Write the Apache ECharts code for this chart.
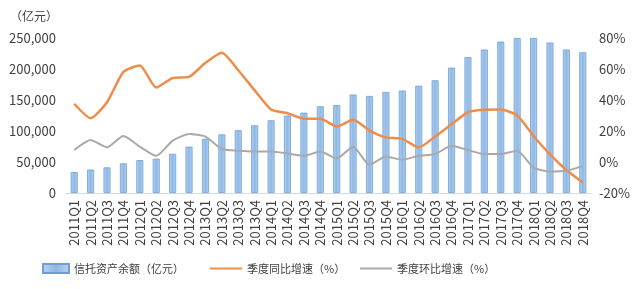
<!DOCTYPE html>
<html><head><meta charset="utf-8">
<script src="https://cdn.jsdelivr.net/npm/echarts@6/dist/echarts.min.js"></script>
<style>html,body{margin:0;padding:0;background:#fff}#c{width:640px;height:289px}</style>
</head><body><div id="c"></div>
<script>
var categories = ['2011Q1','2011Q2','2011Q3','2011Q4','2012Q1','2012Q2','2012Q3','2012Q4','2013Q1','2013Q2','2013Q3','2013Q4','2014Q1','2014Q2','2014Q3','2014Q4','2015Q1','2015Q2','2015Q3','2015Q4','2016Q1','2016Q2','2016Q3','2016Q4','2017Q1','2017Q2','2017Q3','2017Q4','2018Q1','2018Q2','2018Q3','2018Q4'];
var assets = [33700,37800,41300,47800,53000,55300,63200,74700,87300,94500,101300,109100,117300,124800,129500,139800,141800,158700,156500,163000,165200,172900,181700,202200,219300,231400,244100,250000,250000,242700,231400,227000];
var yoy = [37.6,28.3,38.6,58.1,62.3,48,54.2,54.9,64,70.5,59.2,46.2,33.9,31.5,27.9,27.9,22.9,27.2,20.3,15.9,14.9,9.4,16.4,24.3,32.1,33.7,33.8,30,16.8,4.9,-5.2,-13.3];
var qoq = [7.7,14.2,9.4,16.8,9.9,4,13.8,18.1,16.4,8.4,7.3,6.8,6.8,5.5,4,6.8,2.3,9.9,-1.8,3.6,1.4,4,5.1,10.5,7.7,5.1,5.1,7.3,-3.6,-6.2,-5.7,-2.5];
var seriesNames = ['信托资产余额（亿元）','季度同比增速（%）','季度环比增速（%）'];
var unitLabel = '（亿元）';

var FF = '"Noto Sans CJK SC","Noto Sans",sans-serif';
var chart = echarts.init(document.getElementById('c'));
var barFill = new echarts.graphic.LinearGradient(0,0,1,0,[
  {offset:0,color:'#b9d3ef'},{offset:0.5,color:'#8db8e6'},{offset:1,color:'#b9d3ef'}]);
chart.setOption({
  animation:false,
  backgroundColor:'#fff',
  textStyle:{fontFamily:FF},
  graphic:[{type:'text',left:10,top:10,style:{text:unitLabel,font:'12px '+FF,fill:'#404040'}}],
  grid:{left:66,right:49,top:38,bottom:96},
  legend:[
    {data:[{name:seriesNames[0],icon:'rect'}],left:37,top:258,itemWidth:26,itemHeight:9,textStyle:{fontSize:11,color:'#404040',fontFamily:FF}},
    {data:[{name:seriesNames[1],icon:'rect'}],left:205,top:258,itemWidth:32,itemHeight:2,textStyle:{fontSize:11,color:'#404040',fontFamily:FF}},
    {data:[{name:seriesNames[2],icon:'rect'}],left:355,top:258,itemWidth:32,itemHeight:2,textStyle:{fontSize:11,color:'#404040',fontFamily:FF}}
  ],
  xAxis:{type:'category',data:categories,
    axisLine:{lineStyle:{color:'#d9d9d9',width:1}},axisTick:{show:false},
    axisLabel:{rotate:90,interval:0,fontSize:13,color:'#404040',margin:7,fontFamily:FF}},
  yAxis:[
    {type:'value',min:0,max:250000,interval:50000,splitLine:{show:false},
      axisLine:{show:false},axisTick:{show:false},
      axisLabel:{fontSize:13,color:'#404040',margin:10,fontFamily:FF}},
    {type:'value',min:-20,max:80,interval:20,splitLine:{show:false},
      axisLine:{show:false},axisTick:{show:false},
      axisLabel:{formatter:'{value}%',fontSize:13,color:'#404040',margin:8,fontFamily:FF}}
  ],
  series:[
    {name:seriesNames[0],type:'bar',data:assets,barWidth:7,clip:true,
      itemStyle:{color:barFill,borderColor:'#6d9fd4',borderWidth:0.8}},
    {name:seriesNames[1],type:'line',yAxisIndex:1,data:yoy,symbol:'none',smooth:0.2,
      lineStyle:{color:'#ee8c4a',width:2.5},itemStyle:{color:'#ee8c4a'}},
    {name:seriesNames[2],type:'line',yAxisIndex:1,data:qoq,symbol:'none',smooth:0.2,
      lineStyle:{color:'#a9a9a9',width:2},itemStyle:{color:'#a9a9a9'}}
  ]
});
</script></body></html>
